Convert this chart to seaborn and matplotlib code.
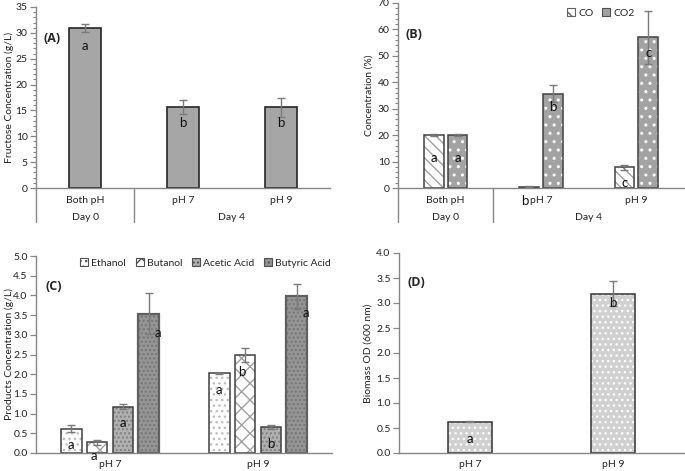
import pandas as pd
import matplotlib
matplotlib.use("Agg")
import matplotlib.pyplot as plt
import matplotlib.transforms as mtransforms
from matplotlib.patches import Rectangle, Patch
from matplotlib.lines import Line2D
from matplotlib.ticker import MultipleLocator, FormatStrFormatter
import seaborn as sns

# ---- data ----
# (A) fructose
a_conditions = ["Both pH", "pH 7", "pH 9"]
a_days = ["Day 0", "Day 4"]
a_fructose = [31.0, 15.7, 15.6]
a_fructose_err = [0.8, 1.4, 1.9]
a_letters = ["a", "b", "b"]
a_letter_y = [27.4, 12.6, 12.6]

# (B) gases
b_conditions = ["Both pH", "pH 7", "pH 9"]
b_gases = ["CO", "CO2"]
b_co = [20.1, 0.5, 7.8]
b_co_err = [0.4, 0.1, 0.9]
b_co2 = [20.1, 35.7, 57.0]
b_co2_err = [0.4, 3.2, 10.0]
b_co_letters = ["a", "b", "c"]
b_co2_letters = ["a", "b", "c"]
b_co_letter_y = [11.3, -5.0, 2.0]
b_co2_letter_y = [11.3, 30.5, 51.0]

# (C) products
c_conditions = ["pH 7", "pH 9"]
c_products = ["Ethanol", "Butanol", "Acetic Acid", "Butyric Acid"]
c_ethanol = [0.62, 2.02]
c_ethanol_err = [0.08, 0.01]
c_butanol = [0.27, 2.49]
c_butanol_err = [0.07, 0.18]
c_acetic = [1.18, 0.67]
c_acetic_err = [0.06, 0.05]
c_butyric = [3.53, 3.98]
c_butyric_err = [0.52, 0.32]
c_letters = [["a", "a"], ["a", "b"], ["a", "b"], ["a", "a"]]
c_letter_y = [[0.2, 1.6], [-0.07, 2.05], [0.77, 0.23], [3.05, 3.55]]

# (D) biomass
d_conditions = ["pH 7", "pH 9"]
d_biomass = [0.63, 3.19]
d_biomass_err = [0.01, 0.25]
d_letters = ["a", "b"]
d_letter_y = [0.28, 3.0]

# ---- style ----
sns.set_style("ticks")
plt.rcParams["font.family"] = ["Lato", "DejaVu Sans"]
plt.rcParams["hatch.linewidth"] = 1.0
FS = 7.5
AXCOL = "#868686"
ERRCOL = "#7a7a7a"

W, H = 685, 471
fig = plt.figure(figsize=(W / 100, H / 100), dpi=100)


def px_axes(l, t, r, b):
    return fig.add_axes([l / W, 1 - b / H, (r - l) / W, (b - t) / H])


def fy(py):
    return 1 - py / H


def style_axis(ax, ymax, major, minor=None, fmt=None):
    sns.despine(ax=ax)
    for s in ["left", "bottom"]:
        ax.spines[s].set_color(AXCOL)
        ax.spines[s].set_linewidth(1.0)
    ax.set_ylim(0, ymax)
    ax.yaxis.set_major_locator(MultipleLocator(major))
    if minor:
        ax.yaxis.set_minor_locator(MultipleLocator(minor))
        ax.tick_params(axis="y", which="minor", length=2, color=AXCOL, width=0.8)
    if fmt:
        ax.yaxis.set_major_formatter(FormatStrFormatter(fmt))
    ax.tick_params(axis="y", which="major", length=4, color=AXCOL, width=0.9,
                   labelsize=FS, pad=2, labelcolor="#222222")
    ax.tick_params(axis="x", length=0, labelsize=FS, labelcolor="#222222")
    ax.set_xlabel("")


def style_bars(ax, patches, face, edge, lw, hatch=None, hatch_color=None):
    for p in patches:
        p.set_facecolor(face)
        if hatch:
            p.set_hatch(hatch)
            p.set_edgecolor(hatch_color)
            p.set_linewidth(0)
            ax.add_patch(Rectangle(p.get_xy(), p.get_width(), p.get_height(),
                                   fill=False, edgecolor=edge, lw=lw,
                                   zorder=p.get_zorder() + 0.1))
        else:
            p.set_edgecolor(edge)
            p.set_linewidth(lw)


def add_errors(ax, patches, errs):
    xs = [p.get_x() + p.get_width() / 2 for p in patches]
    ys = [p.get_height() for p in patches]
    ax.errorbar(xs, ys, yerr=errs, fmt="none", ecolor=ERRCOL, elinewidth=1,
                capsize=3, capthick=1, zorder=5)


def add_letters(ax, patches, letters, ys, dx=0):
    for p, t, y in zip(patches, letters, ys):
        ax.annotate(t, (p.get_x() + p.get_width() / 2, y), xytext=(dx, 0),
                    textcoords="offset points", ha="center", va="center",
                    fontsize=9.5, color="#111111", zorder=6, annotation_clip=False)


def panel_label(text, x, y):
    fig.text(x / W, fy(y), text, fontsize=9, fontweight="bold",
             family=["Open Sans", "DejaVu Sans"], va="center", ha="left")


def day_rows(ax, days, day_x):
    trans = mtransforms.blended_transform_factory(ax.transData, fig.transFigure)
    for x in [-0.5, 0.5]:
        ax.add_line(Line2D([x, x], [fy(188), fy(222)], transform=trans,
                           color=AXCOL, lw=1.0, clip_on=False))
    for d, x in zip(days, day_x):
        ax.text(x, fy(217), d, transform=trans, ha="center", va="center",
                fontsize=FS, color="#222222")


# ---- (A) ----
axA = px_axes(36, 7, 330, 188)
dfA = pd.DataFrame({"Condition": a_conditions, "Fructose": a_fructose})
sns.barplot(data=dfA, x="Condition", y="Fructose", order=a_conditions,
            width=0.32, errorbar=None, color="#a6a6a6", ax=axA)
style_axis(axA, 35, 5, 1)
axA.set_xlim(-0.5, 2.5)
axA.tick_params(axis="x", pad=6)
axA.set_ylabel("Fructose Concentration (g/L)", fontsize=FS, color="#222222")
axA.yaxis.set_label_coords(-0.075, 0.5)
barsA = axA.containers[0].patches
style_bars(axA, barsA, "#a6a6a6", "#262626", 1.2)
add_errors(axA, barsA, a_fructose_err)
add_letters(axA, barsA, a_letters, a_letter_y)
day_rows(axA, a_days, [0, 1.5])
panel_label("(A)", 44, 38)

# ---- (B) ----
axB = px_axes(398, 3, 684, 188)
dfB = pd.DataFrame({
    "Condition": b_conditions * 2,
    "Gas": [b_gases[0]] * 3 + [b_gases[1]] * 3,
    "Concentration": b_co + b_co2,
})
sns.barplot(data=dfB, x="Condition", y="Concentration", hue="Gas",
            order=b_conditions, hue_order=b_gases, width=0.5, gap=0.18,
            errorbar=None, legend=False, ax=axB)
style_axis(axB, 70, 10, 2)
axB.set_xlim(-0.5, 2.5)
axB.tick_params(axis="x", pad=6)
axB.set_ylabel("Concentration (%)", fontsize=FS, color="#222222")
axB.yaxis.set_label_coords(-0.084, 0.5)
co_bars = axB.containers[0].patches
co2_bars = axB.containers[1].patches
style_bars(axB, co_bars, "white", "#404040", 1.1, "\\\\\\", "#a0a0a0")
style_bars(axB, co2_bars, "#a3a3a3", "#404040", 1.1, "..", "white")
add_errors(axB, co_bars, b_co_err)
add_errors(axB, co2_bars, b_co2_err)
add_letters(axB, co_bars[:1], b_co_letters[:1], b_co_letter_y[:1])
add_letters(axB, co_bars[1:2], b_co_letters[1:2], b_co_letter_y[1:2], dx=-3)
add_letters(axB, co_bars[2:], b_co_letters[2:], b_co_letter_y[2:])
add_letters(axB, co2_bars, b_co2_letters, b_co2_letter_y)
day_rows(axB, a_days, [0, 1.5])
panel_label("(B)", 406, 34)
handlesB = [Patch(facecolor="white", edgecolor="#606060", hatch="\\\\\\", lw=0.8),
            Patch(facecolor="#a3a3a3", edgecolor="#505050", lw=0.8)]
axB.legend(handles=handlesB, labels=b_gases, ncol=2, frameon=False,
           loc="center left", bbox_to_anchor=(567 / W, fy(13)),
           bbox_transform=fig.transFigure, fontsize=FS, handlelength=0.8,
           handleheight=0.8, handletextpad=0.3, columnspacing=0.8,
           borderaxespad=0, borderpad=0)

# ---- (C) ----
axC = px_axes(36, 256, 332, 453)
dfC = pd.DataFrame({
    "Condition": c_conditions * 4,
    "Product": [p for p in c_products for _ in c_conditions],
    "Concentration": c_ethanol + c_butanol + c_acetic + c_butyric,
})
sns.barplot(data=dfC, x="Condition", y="Concentration", hue="Product",
            order=c_conditions, hue_order=c_products, width=0.7, gap=0.2,
            errorbar=None, legend=False, ax=axC)
style_axis(axC, 5, 0.5, fmt="%.1f")
axC.set_xlim(-0.5, 1.5)
axC.tick_params(axis="x", pad=5)
axC.set_ylabel("Products Concentration (g/L)", fontsize=FS, color="#222222")
axC.yaxis.set_label_coords(-0.074, 0.5)
c_styles = [
    ("white", "#404040", 1.1, "...", "#bdbdbd"),
    ("white", "#404040", 1.1, "xx", "#a0a0a0"),
    ("#b0b0b0", "#404040", 1.1, "....", "#808080"),
    ("#959595", "#606060", 1.6, "....", "#767676"),
]
c_errs = [c_ethanol_err, c_butanol_err, c_acetic_err, c_butyric_err]
c_dx = [0, -2.5, 0, 6.5]
bar_containers = list(axC.containers)
for i, cont in enumerate(bar_containers):
    face, edge, lw, hatch, hcol = c_styles[i]
    style_bars(axC, cont.patches, face, edge, lw, hatch, hcol)
    add_errors(axC, cont.patches, c_errs[i])
    add_letters(axC, cont.patches, c_letters[i], c_letter_y[i], dx=c_dx[i])
panel_label("(C)", 45, 287)
handlesC = [Patch(facecolor=s[0], edgecolor="#505050", hatch=s[3], lw=0.8)
            for s in c_styles]
axC.legend(handles=handlesC, labels=c_products, ncol=4, frameon=False,
           loc="center left", bbox_to_anchor=(80 / W, fy(263)),
           bbox_transform=fig.transFigure, fontsize=FS, handlelength=0.8,
           handleheight=0.8, handletextpad=0.3, columnspacing=0.9,
           borderaxespad=0, borderpad=0)

# ---- (D) ----
axD = px_axes(399, 253, 684, 453)
dfD = pd.DataFrame({"Condition": d_conditions, "Biomass": d_biomass})
sns.barplot(data=dfD, x="Condition", y="Biomass", order=d_conditions,
            width=0.31, errorbar=None, color="#d3d3d3", ax=axD)
style_axis(axD, 4, 0.5, fmt="%.1f")
axD.set_xlim(-0.5, 1.5)
axD.tick_params(axis="x", pad=5)
axD.set_ylabel("Biomass OD (600 nm)", fontsize=FS, color="#222222")
axD.yaxis.set_label_coords(-0.091, 0.5)
barsD = axD.containers[0].patches
style_bars(axD, barsD, "#d0d0d0", "#333333", 1.1, "...", "white")
add_errors(axD, barsD, d_biomass_err)
add_letters(axD, barsD, d_letters, d_letter_y)
panel_label("(D)", 407, 283)

fig.savefig("out.png", dpi=100)
